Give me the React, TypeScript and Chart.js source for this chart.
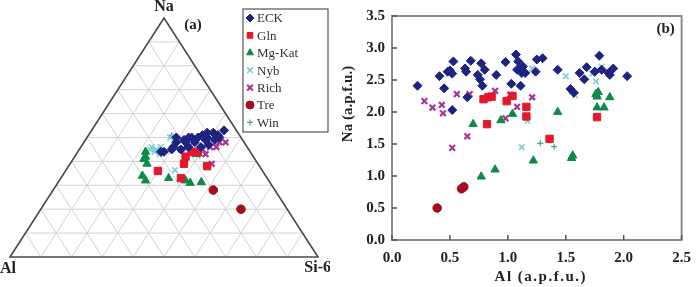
import React, { useEffect, useRef } from 'react';
import { Chart, registerables } from 'chart.js';
import { drawPoint } from 'chart.js/helpers';

Chart.register(...registerables);

// ---------- Series names ----------
const seriesNames = ['ECK', 'Gln', 'Mg-Kat', 'Nyb', 'Rich', 'Tre', 'Win'];

// ---------- (b) Al vs Na (a.p.f.u.) ----------
const eckAl = [0.22, 0.41, 0.45, 0.48, 0.50, 0.53, 0.52, 0.63, 0.64, 0.68, 0.65, 0.52, 0.77, 0.80, 0.74, 0.76, 0.78, 0.90, 0.98, 1.03, 1.07, 1.09, 1.11, 1.13, 1.15, 1.24, 1.25, 1.30, 1.43, 1.62, 1.66, 1.68, 1.75, 1.79, 1.81, 1.87, 1.88, 1.91, 2.03, 1.54, 1.57, 1.12, 1.08];
const eckNa = [2.41, 2.56, 2.37, 2.63, 2.65, 2.79, 2.60, 2.68, 2.63, 2.80, 2.23, 2.03, 2.76, 2.66, 2.58, 2.51, 2.41, 2.58, 2.78, 2.44, 2.90, 2.79, 2.41, 2.71, 2.61, 2.63, 2.82, 2.84, 2.66, 2.61, 2.51, 2.70, 2.63, 2.88, 2.66, 2.61, 2.58, 2.68, 2.56, 2.36, 2.30, 2.61, 2.66];
const glnAl = [0.79, 0.83, 0.86, 0.82, 0.99, 1.04, 1.16, 1.16, 1.36, 1.77];
const glnNa = [2.20, 2.23, 2.24, 1.81, 2.17, 2.25, 2.08, 1.93, 1.58, 1.92];
const mgkAl = [0.70, 0.94, 1.04, 1.43, 1.76, 1.77, 1.78, 1.88, 1.77, 1.83, 0.77, 0.89, 1.22, 1.55, 1.56];
const mgkNa = [1.81, 1.87, 1.97, 2.00, 2.28, 2.24, 2.31, 2.23, 2.07, 2.07, 0.99, 1.10, 1.24, 1.28, 1.32];
const nybAl = [1.50, 1.58, 1.77, 1.76, 1.81, 1.21, 1.12, 1.17, 1.55, 1.73];
const nybNa = [2.56, 2.26, 2.66, 2.48, 2.71, 2.68, 1.45, 1.86, 2.33, 2.60];
const richAl = [0.28, 0.35, 0.43, 0.44, 0.56, 0.67, 0.89, 1.02, 1.08, 1.21, 0.98, 0.65, 0.52];
const richNa = [2.17, 2.07, 2.11, 1.98, 2.28, 2.28, 2.33, 2.27, 2.08, 2.23, 1.90, 1.62, 1.44];
const treAl = [0.39, 0.60, 0.62];
const treNa = [0.50, 0.80, 0.83];
const winAl = [1.28, 1.40];
const winNa = [1.51, 1.46];

const xTicks = [0, 0.5, 1.0, 1.5, 2.0, 2.5];
const yTicks = [0, 0.5, 1.0, 1.5, 2.0, 2.5, 3.0, 3.5];

// ---------- (a) ternary Na / Al / Si-6 (percent) ----------
const eckTern = [[53, 4, 43], [51, 7, 42], [52, 8, 40], [50, 11, 39], [51, 12, 37], [50, 14, 36], [50, 16, 34], [50, 17, 33], [49, 19, 32], [48, 22, 30], [46, 24, 30], [45, 25, 30], [48, 19, 33], [48, 16, 36], [49, 12, 39], [49, 9, 42], [46, 15, 39], [46, 19, 35], [45, 22, 33], [44, 28, 28], [44, 29, 27], [47, 12, 41], [50, 7, 43], [50, 21, 29], [52, 10, 38]];
const glnTern = [[36, 34, 30], [33, 28, 39], [39, 24, 37], [44, 19, 37], [38, 17, 45], [44, 17, 39], [42, 22, 36]];
const mgkTern = [[44, 34, 22], [42, 35, 23], [41, 36, 23], [39, 36, 25], [34, 40, 26], [32, 40, 28], [33, 32, 35], [32, 27, 41], [31, 26, 43], [31, 22, 46], [43, 18, 39]];
const nybTern = [[46, 31, 23], [45, 30, 25], [46, 28, 26], [43, 30, 27], [44, 31, 25], [36, 28, 35], [50, 23, 27], [45, 32, 23]];
const richTern = [[39, 15, 46], [48, 8, 44], [48, 6, 46], [46, 12, 42], [45, 15, 40], [44, 18, 38], [46, 19, 35], [46, 10, 44], [43, 15, 42], [45, 22, 33]];
const treTern = [[28, 20, 52], [20, 15, 65]];
const winTern = [[51, 22, 27], [42, 17, 40], [41, 35, 24]];

const GRID_DIV = 10;

// ---------- styles ----------
const STYLE: Record<string, any> = {
  'ECK': { color: '#1e2380', shape: 'rectRot', r: 4.5, bw: 1 },
  'Gln': { color: '#e3192b', shape: 'rect', r: 5.2, bw: 1 },
  'Mg-Kat': { color: '#0d8a47', shape: 'triangle', r: 4.8, bw: 1 },
  'Nyb': { color: '#7dcfd3', shape: 'crossRot', r: 4, bw: 1.6 },
  'Rich': { color: '#a8349a', shape: 'crossRot', r: 4, bw: 2.2 },
  'Tre': { color: '#a30f1f', shape: 'circle', r: 4.3, bw: 1 },
  'Win': { color: '#479f9c', shape: 'cross', r: 3, bw: 1.2 },
};

const SERIF = '"Liberation Serif", "DejaVu Serif", serif';

function dsStyle(name: string) {
  const s = STYLE[name];
  const stroke = s.shape === 'cross' || s.shape === 'crossRot';
  return {
    label: name,
    pointStyle: s.shape,
    pointRadius: s.r,
    pointBorderWidth: s.bw,
    backgroundColor: s.color,
    borderColor: s.color,
    showLine: false,
    clip: false as any,
    _stroke: stroke,
  };
}

const pairs = (xs: number[], ys: number[]) => xs.map((x, i) => ({ x, y: ys[i] }));
const toXY = (t: number[]) => {
  const [na, al, si] = t;
  const s = na + al + si;
  return { x: (si + na / 2) / s, y: na / s };
};

const scatterSeries = [
  ['ECK', eckAl, eckNa], ['Gln', glnAl, glnNa], ['Mg-Kat', mgkAl, mgkNa], ['Nyb', nybAl, nybNa],
  ['Rich', richAl, richNa], ['Tre', treAl, treNa], ['Win', winAl, winNa],
] as [string, number[], number[]][];

const ternSeries = [
  ['ECK', eckTern], ['Gln', glnTern], ['Mg-Kat', mgkTern], ['Nyb', nybTern],
  ['Rich', richTern], ['Tre', treTern], ['Win', winTern],
] as [string, number[][]][];

// ---------- plugins ----------
const ternaryPlugin = {
  id: 'ternaryPlugin',
  beforeDatasetsDraw(chart: any) {
    const { ctx, scales } = chart;
    const sx = scales.x, sy = scales.y;
    const P = (X: number, Y: number) => [sx.getPixelForValue(X), sy.getPixelForValue(Y)];
    const seg = (a: number[], b: number[]) => {
      ctx.beginPath(); ctx.moveTo(a[0], a[1]); ctx.lineTo(b[0], b[1]); ctx.stroke();
    };
    ctx.save();
    ctx.strokeStyle = '#d2d2d2';
    ctx.lineWidth = 1;
    for (let i = 1; i < GRID_DIV; i++) {
      const f = i / GRID_DIV;
      seg(P(f / 2, f), P(1 - f / 2, f));
      seg(P(f, 0), P(f + (1 - f) / 2, 1 - f));
      seg(P(1 - f, 0), P((1 - f) / 2, 1 - f));
    }
    ctx.strokeStyle = '#4a4a4a';
    ctx.lineWidth = 1.6;
    const a = P(0, 0), b = P(1, 0), c = P(0.5, 1);
    ctx.beginPath(); ctx.moveTo(a[0], a[1]); ctx.lineTo(b[0], b[1]); ctx.lineTo(c[0], c[1]); ctx.closePath(); ctx.stroke();
    ctx.restore();
  },
  afterDraw(chart: any) {
    const { ctx, scales } = chart;
    const sx = scales.x, sy = scales.y;
    ctx.save();
    ctx.fillStyle = '#222';
    ctx.font = `bold 16px ${SERIF}`;
    ctx.textBaseline = 'middle';
    ctx.textAlign = 'center';
    ctx.fillText('Na', sx.getPixelForValue(0.5), sy.getPixelForValue(1) - 11);
    ctx.textAlign = 'left';
    ctx.fillText('Al', 0, sy.getPixelForValue(0) + 12);
    ctx.textAlign = 'right';
    ctx.fillText('Si-6', 331, sy.getPixelForValue(0) + 11);
    ctx.textAlign = 'center';
    ctx.font = `bold 15px ${SERIF}`;
    ctx.fillText('(a)', 193, 25);

    // legend box
    const bx = 243, by = 9, bw = 85, bh = 123;
    ctx.fillStyle = '#fff';
    ctx.fillRect(bx, by, bw, bh);
    ctx.strokeStyle = '#555';
    ctx.lineWidth = 1.2;
    ctx.strokeRect(bx, by, bw, bh);
    ctx.font = `13px ${SERIF}`;
    ctx.textAlign = 'left';
    seriesNames.forEach((name, i) => {
      const s = STYLE[name];
      const yy = by + 9 + i * 17.4;
      ctx.fillStyle = s.color;
      ctx.strokeStyle = s.color;
      ctx.lineWidth = s.bw;
      drawPoint(ctx, { pointStyle: s.shape, radius: Math.min(s.r, 4), rotation: 0, borderWidth: s.bw } as any, bx + 7, yy);
      ctx.fillStyle = '#333';
      ctx.fillText(name, bx + 14, yy + 1);
    });
    ctx.restore();
  },
};

const framePlugin = {
  id: 'framePlugin',
  beforeDatasetsDraw(chart: any) {
    const { ctx, chartArea: ca, scales } = chart;
    ctx.save();
    ctx.strokeStyle = '#8c8c8c';
    ctx.lineWidth = 2;
    ctx.strokeRect(ca.left, ca.top, ca.right - ca.left, ca.bottom - ca.top);
    ctx.strokeStyle = '#555';
    ctx.lineWidth = 1.5;
    xTicks.forEach((v) => {
      const px = scales.x.getPixelForValue(v);
      ctx.beginPath(); ctx.moveTo(px, ca.bottom); ctx.lineTo(px, ca.bottom - 5); ctx.stroke();
    });
    yTicks.forEach((v) => {
      const py = scales.y.getPixelForValue(v);
      ctx.beginPath(); ctx.moveTo(ca.left, py); ctx.lineTo(ca.left + 5, py); ctx.stroke();
    });
    ctx.restore();
  },
  afterDraw(chart: any) {
    const { ctx, chartArea: ca } = chart;
    ctx.save();
    ctx.fillStyle = '#222';
    ctx.font = `bold 15px ${SERIF}`;
    ctx.textAlign = 'center';
    ctx.textBaseline = 'middle';
    ctx.fillText('(b)', ca.right - 16, ca.top + 13);
    (ctx as any).letterSpacing = '1.5px';
    ctx.font = `bold 15px ${SERIF}`;
    ctx.fillText('Al (a.p.f.u.)', (ca.left + ca.right) / 2 + 4, 277);
    ctx.translate(18, 104);
    ctx.rotate(-Math.PI / 2);
    (ctx as any).letterSpacing = '0px';
    ctx.fillText('Na (a.p.f.u.)', 0, 0);
    ctx.restore();
  },
};

const tickFont = { family: SERIF, size: 15, weight: 'bold' as const };

function TernaryChart() {
  const ref = useRef<HTMLCanvasElement>(null);
  useEffect(() => {
    const chart = new Chart(ref.current!, {
      type: 'scatter',
      data: {
        datasets: ternSeries.map(([name, arr]) => ({ ...dsStyle(name), data: arr.map(toXY) })) as any,
      },
      options: {
        animation: false,
        responsive: false,
        maintainAspectRatio: false,
        events: [],
        layout: { padding: { left: 10, right: 12, top: 18, bottom: 30 } },
        plugins: { legend: { display: false }, tooltip: { enabled: false } },
        scales: {
          x: { type: 'linear', min: 0, max: 1, display: false },
          y: { type: 'linear', min: 0, max: 1, display: false },
        },
      },
      plugins: [ternaryPlugin],
    });
    return () => chart.destroy();
  }, []);
  return <canvas ref={ref} width={330} height={287} style={{ position: 'absolute', left: 0, top: 0, width: 330, height: 287 }} />;
}

function AlNaChart() {
  const ref = useRef<HTMLCanvasElement>(null);
  useEffect(() => {
    const chart = new Chart(ref.current!, {
      type: 'scatter',
      data: {
        datasets: scatterSeries.map(([name, xs, ys]) => ({ ...dsStyle(name), data: pairs(xs, ys) })) as any,
      },
      options: {
        animation: false,
        responsive: false,
        maintainAspectRatio: false,
        events: [],
        layout: { padding: { left: 0, right: 3, top: 7, bottom: 0 } },
        plugins: { legend: { display: false }, tooltip: { enabled: false } },
        scales: {
          x: {
            type: 'linear', min: 0, max: 2.5,
            afterBuildTicks: (s: any) => { s.ticks = xTicks.map((v) => ({ value: v })); },
            ticks: { callback: (v: any) => Number(v).toFixed(1), font: tickFont, color: '#222', padding: 9, maxRotation: 0, autoSkip: false },
            grid: { display: false, drawTicks: false },
            border: { display: false },
            afterFit: (s: any) => { s.height = 47; },
          },
          y: {
            type: 'linear', min: 0, max: 3.5,
            afterBuildTicks: (s: any) => { s.ticks = yTicks.map((v) => ({ value: v })); },
            ticks: { callback: (v: any) => Number(v).toFixed(1), font: tickFont, color: '#222', padding: 7, autoSkip: false },
            grid: { display: false, drawTicks: false },
            border: { display: false },
            afterFit: (s: any) => { s.width = 62; },
          },
        },
      },
      plugins: [framePlugin],
    });
    return () => chart.destroy();
  }, []);
  return <canvas ref={ref} width={370} height={287} style={{ position: 'absolute', left: 330, top: 0, width: 370, height: 287 }} />;
}

export default function App() {
  return (
    <div style={{ position: 'fixed', left: 0, top: 0, width: 700, height: 287, background: '#fff', overflow: 'hidden' }}>
      <TernaryChart />
      <AlNaChart />
    </div>
  );
}
